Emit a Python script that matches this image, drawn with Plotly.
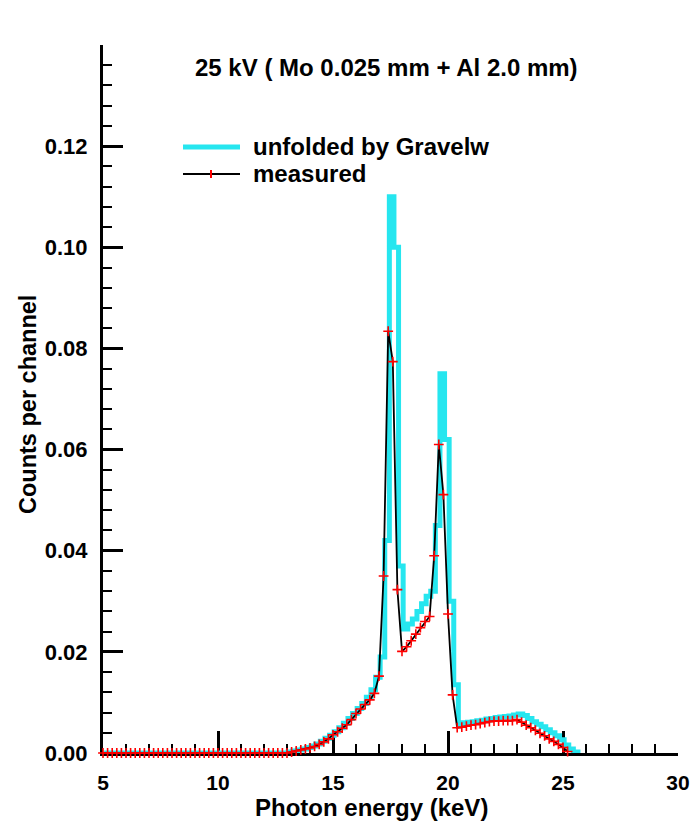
import numpy as np
import plotly.graph_objects as go

# Measured spectrum: channel energies (keV) start at 5.0 with 0.2 keV spacing
measured_start, measured_step = 5.0, 0.2
measured_counts = (
    [0.0] * 40 +
    [0.0000, 0.0002, 0.0004, 0.0006, 0.0008, 0.0010, 0.0013, 0.0017, 0.0022, 0.0028,
     0.0036, 0.0042, 0.0049, 0.0056, 0.0066, 0.0078, 0.0087, 0.0096, 0.0105, 0.0118,
     0.0152, 0.0350, 0.0834, 0.0774, 0.0323, 0.0201, 0.0210, 0.0222, 0.0235, 0.0248,
     0.0260, 0.0270, 0.0390, 0.0610, 0.0511, 0.0275, 0.0115, 0.0050,
     0.0051, 0.0053, 0.0055, 0.0056, 0.0058, 0.0060, 0.0062, 0.0063, 0.0063, 0.0064,
     0.0064, 0.0064, 0.0066, 0.0061, 0.0055, 0.0050, 0.0045, 0.0039, 0.0034, 0.0028,
     0.0023, 0.0017, 0.0011, 0.0003]
)

# Unfolded spectrum (Gravelw): histogram bins, left edges start at 5.05 keV, 0.2 keV wide
unfolded_start, unfolded_step = 5.05, 0.2
unfolded_counts = (
    [0.0] * 40 +
    [0.0002, 0.0004, 0.0006, 0.0008, 0.0011, 0.0014, 0.0018, 0.0023, 0.0029, 0.0035,
     0.0042, 0.0050, 0.0059, 0.0068, 0.0078, 0.0088, 0.0098, 0.0110, 0.0125, 0.0150,
     0.0190, 0.0420, 0.1100, 0.1000, 0.0370, 0.0245, 0.0255, 0.0265, 0.0280, 0.0295,
     0.0310, 0.0320, 0.0450, 0.0750, 0.0620, 0.0300, 0.0135,
     0.0058, 0.0060, 0.0061, 0.0062, 0.0064, 0.0065, 0.0067, 0.0068, 0.0070, 0.0071,
     0.0072, 0.0073, 0.0075, 0.0077, 0.0074, 0.0068, 0.0062, 0.0057, 0.0052, 0.0046,
     0.0040, 0.0034, 0.0026, 0.0016, 0.0008, 0.0002, 0.0000]
)

measured_energy = measured_start + measured_step * np.arange(len(measured_counts))
unfolded_energy = unfolded_start + unfolded_step * np.arange(len(unfolded_counts))

y_tick_values = [0.00, 0.02, 0.04, 0.06, 0.08, 0.10, 0.12]
x_tick_values = [5, 10, 15, 20, 25, 30]

title_text = "25 kV ( Mo 0.025 mm + Al 2.0 mm)"
x_title = "Photon energy (keV)"
y_title = "Counts per channel"
unfolded_name = "unfolded by Gravelw"
measured_name = "measured"

CYAN = "#26E6EF"
FONT = "Liberation Sans, Arial, sans-serif"

fig = go.Figure()

fig.add_trace(go.Scatter(
    x=unfolded_energy, y=unfolded_counts, mode="lines", line_shape="hv",
    line=dict(color=CYAN, width=5), name=unfolded_name, showlegend=False,
))
fig.add_trace(go.Scatter(
    x=measured_energy, y=measured_counts, mode="lines+markers",
    line=dict(color="black", width=1.8),
    marker=dict(symbol="cross-thin", size=7, color="red", line=dict(color="red", width=1.6)),
    name=measured_name, showlegend=False, cliponaxis=False,
))

# plot area in pixels: x 103..678, y 45..753
L, R, T, B = 103, 13, 45, 76
W, H = 691, 829
pw, ph = W - L - R, H - T - B


def px_x(p):
    return (p - L) / pw


def px_y(p):
    return (H - B - p) / ph


def label(text, x, y, size=24, xanchor="left", angle=0):
    fig.add_annotation(text=f"<b>{text}</b>", x=px_x(x), y=px_y(y), xref="paper", yref="paper",
                       xanchor=xanchor, yanchor="middle", showarrow=False, textangle=angle,
                       font=dict(family=FONT, size=size, color="black"))


# title, axis titles and legend placed in paper coordinates
label(title_text, 386, 67, xanchor="center")
label(x_title, 371, 807, xanchor="center")
label(y_title, 28, 405, size=23.5, xanchor="center", angle=-90)

fig.add_shape(type="line", xref="paper", yref="paper", x0=px_x(183), x1=px_x(240),
              y0=px_y(147), y1=px_y(147), line=dict(color=CYAN, width=5))
fig.add_shape(type="line", xref="paper", yref="paper", x0=px_x(183), x1=px_x(240),
              y0=px_y(174), y1=px_y(174), line=dict(color="black", width=1.8))
fig.add_shape(type="line", xref="paper", yref="paper", x0=px_x(211), x1=px_x(211),
              y0=px_y(170), y1=px_y(178), line=dict(color="red", width=2))
label(unfolded_name, 251, 147)
label(measured_name, 251, 174)

fig.update_layout(
    width=W, height=H,
    margin=dict(l=L, r=R, t=T, b=B, autoexpand=False),
    paper_bgcolor="white", plot_bgcolor="white",
    font=dict(family=FONT, color="black"),
    showlegend=False,
)

fig.update_xaxes(
    range=[5, 30], tickvals=x_tick_values, ticktext=[str(v) for v in x_tick_values],
    showline=True, linecolor="black", linewidth=3, mirror=False, automargin=False,
    ticks="inside", ticklen=22, tickwidth=3, tickcolor="black",
    minor=dict(dtick=1, tick0=5, ticks="inside", ticklen=9, tickwidth=1.5, tickcolor="black"),
    showgrid=False, zeroline=False, layer="below traces",
    tickfont=dict(family=FONT, size=21, weight="bold"), ticklabelstandoff=9,
)
fig.update_yaxes(
    range=[0, 0.14], tickvals=y_tick_values, ticktext=[f"{v:.2f}" for v in y_tick_values],
    showline=True, linecolor="black", linewidth=3, mirror=False, automargin=False,
    ticks="inside", ticklen=20, tickwidth=3, tickcolor="black",
    minor=dict(dtick=0.004, tick0=0, ticks="inside", ticklen=9, tickwidth=1.5, tickcolor="black"),
    showgrid=False, zeroline=False, layer="below traces",
    tickfont=dict(family=FONT, size=22, weight="bold"), ticklabelstandoff=8,
)

fig.write_html("out.html")
